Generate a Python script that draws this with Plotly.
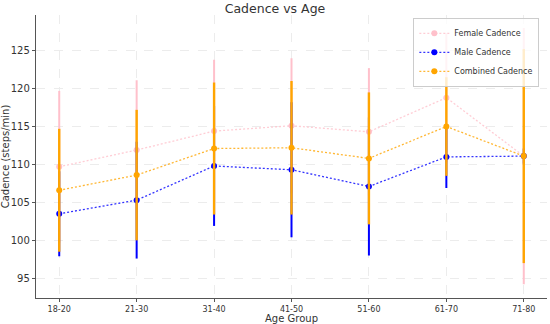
import plotly.graph_objects as go

age_groups = ["18-20", "21-30", "31-40", "41-50", "51-60", "61-70", "71-80"]

female_mean = [109.7, 111.9, 114.4, 115.1, 114.3, 118.8, 111.1]
female_err = [10.0, 9.2, 9.4, 8.9, 8.4, 8.5, 16.9]

male_mean = [103.5, 105.3, 109.8, 109.3, 107.1, 111.0, 111.1]
male_err = [5.6, 7.7, 7.9, 8.9, 9.1, 4.1, 1.0]

combined_mean = [106.6, 108.6, 112.1, 112.2, 110.8, 115.0, 111.1]
combined_err = [8.1, 8.6, 8.7, 8.8, 8.7, 6.5, 14.1]

series = [
    ("Female Cadence", female_mean, female_err, "rgba(255,192,203,0.8)", "pink", 2.0),
    ("Male Cadence", male_mean, male_err, "rgba(0,0,255,0.8)", "blue", 2.0),
    ("Combined Cadence", combined_mean, combined_err, "rgba(255,165,0,0.8)", "orange", 2.4),
]

fig = go.Figure()
xs = list(range(len(age_groups)))
for name, mean, err, lc, mc, th in series:
    fig.add_trace(go.Scatter(
        x=xs, y=mean, name=name, mode="lines+markers",
        line=dict(color=lc, width=1.3, dash="2px,2px"),
        marker=dict(color=mc, size=6, symbol="circle"),
        error_y=dict(type="data", array=err, visible=True, color=mc,
                     thickness=th, width=0),
    ))

font = "DejaVu Sans, Arial, sans-serif"
fig.update_layout(
    width=550, height=324,
    margin=dict(l=36, r=3, t=15, b=26, autoexpand=False),
    paper_bgcolor="white", plot_bgcolor="white",
    font=dict(family=font, color="#333333"),
    title=dict(text="Cadence vs Age", x=0.5, xanchor="center", y=0.974, yanchor="middle",
               font=dict(size=12.5, family=font, color="#333333")),
    showlegend=True,
    legend=dict(x=0.985, y=0.99, xanchor="right", yanchor="top",
                bgcolor="rgba(255,255,255,0.8)", bordercolor="#cccccc", borderwidth=1,
                font=dict(size=8, family=font, color="#333333"),
                tracegroupgap=0, itemwidth=30),
)
fig.update_xaxes(
    range=[-0.3, 6.3], tickmode="array", tickvals=xs, ticktext=age_groups,
    tickfont=dict(size=8, family=font, color="#333333"),
    title=dict(text="Age Group", font=dict(size=10, family=font, color="#333333"), standoff=0),
    showline=True, linecolor="#555555", linewidth=1.3, mirror=False,
    showgrid=True, gridcolor="#ececec", griddash="dash", gridwidth=1,
    ticks="outside", ticklen=3, tickcolor="#555555", zeroline=False, automargin=False,
)
fig.update_yaxes(
    range=[92.4, 129.7], tickmode="array", tickvals=[95, 100, 105, 110, 115, 120, 125],
    tickfont=dict(size=10, family=font, color="#333333"),
    title=dict(text="Cadence (steps/min)", font=dict(size=10, family=font, color="#333333"), standoff=0),
    showline=True, linecolor="#555555", linewidth=1.3, mirror=False,
    showgrid=True, gridcolor="#ececec", griddash="dash", gridwidth=1,
    ticks="outside", ticklen=3, tickcolor="#555555", zeroline=False, automargin=False,
)

fig.write_html("out.html", config={"displayModeBar": False},
               post_script="document.body.style.margin='0';document.body.style.padding='0';")
